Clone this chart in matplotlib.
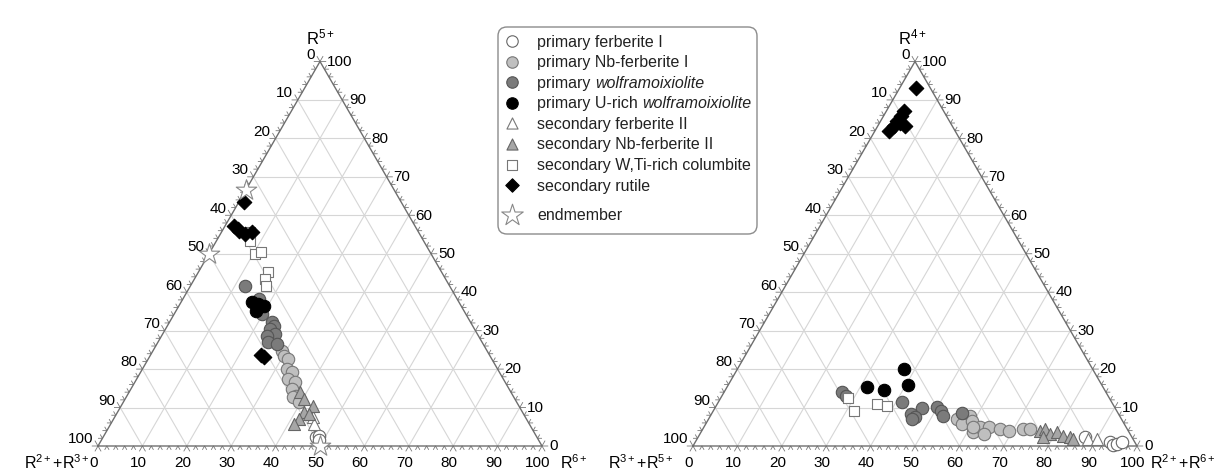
import matplotlib
matplotlib.use('Agg')
import matplotlib.pyplot as plt
from matplotlib.patches import FancyBboxPatch
import numpy as np

plt.rcParams['font.family'] = ['Liberation Sans', 'DejaVu Sans']
plt.rcParams['mathtext.fontset'] = 'custom'
plt.rcParams['mathtext.rm'] = 'Liberation Sans'
plt.rcParams['mathtext.it'] = 'Liberation Sans:italic'

# diagrama izquierdo: (R5+, R6+) en %, el resto es R2+ + R3+
izq_ferb1 = [(2.3, 48.0), (2.6, 48.4), (1.5, 49.0)]
izq_nbferb1 = [(24.7, 29.0), (23.4, 30.3), (22.6, 31.6), (20.0, 32.5), (19.2, 34.0), (17.4, 34.2),
               (16.6, 36.0), (14.8, 36.2), (13.0, 38.2), (12.7, 37.6), (11.4, 39.5)]
izq_wolf = [(41.6, 12.2), (38.2, 17.1), (34.3, 19.8), (32.2, 23.0), (31.2, 24.0), (30.4, 23.5),
            (29.1, 25.3), (28.6, 23.7), (27.0, 24.9), (26.5, 27.0)]
izq_urich = [(37.4, 15.9), (36.9, 17.6), (36.4, 19.1), (35.1, 18.0)]
izq_ferb2 = [(7.5, 44.7), (5.7, 45.9)]
izq_nbferb2 = [(14.0, 38.4), (12.2, 40.4), (10.4, 43.3), (8.8, 42.1), (8.3, 43.4), (7.0, 41.7), (5.7, 41.4)]
izq_colum = [(55.6, 6.4), (53.2, 7.6), (49.9, 10.4), (50.4, 11.4), (45.2, 15.6), (43.4, 15.8), (41.6, 17.0)]
izq_rutilo = [(63.4, 1.1), (57.1, 2.0), (56.4, 3.3), (55.8, 3.8), (55.1, 5.5), (55.6, 6.8),
              (23.1, 25.9), (23.6, 24.8)]
izq_extremos = [(66.7, 0.0), (50.0, 0.0), (0.0, 50.0)]

# diagrama derecho: (R4+, R2+ + R6+) en %, el resto es R3+ + R5+
der_ferb1 = [(2.3, 87.1), (1.0, 93.4), (0.3, 94.5), (0.5, 95.2), (1.0, 96.1)]
der_nbferb1 = [(7.8, 58.4), (7.0, 55.9), (5.7, 57.8), (6.5, 59.5), (3.6, 61.2), (4.9, 62.1),
               (4.9, 64.3), (4.4, 66.9), (3.9, 69.3), (4.4, 72.1), (4.4, 73.6), (5.0, 60.5), (3.0, 64.0)]
der_wolf = [(14.1, 26.4), (13.0, 28.0), (11.5, 41.3), (9.9, 46.6), (8.3, 45.0), (7.6, 46.1),
            (7.0, 45.9), (10.2, 49.8), (9.1, 51.4), (7.8, 52.3), (8.6, 56.2)]
der_urich = [(20.1, 37.4), (15.9, 40.5), (15.4, 31.6), (14.6, 35.8)]
der_ferb2 = [(1.8, 88.0), (1.8, 90.1)]
der_nbferb2 = [(3.9, 76.1), (4.4, 77.0), (3.1, 78.8), (3.6, 80.1), (2.6, 82.0), (2.3, 83.7),
               (1.8, 84.7), (2.3, 77.6)]
der_colum = [(12.5, 28.6), (9.1, 31.7), (10.9, 36.0), (10.4, 38.6)]
der_rutilo = [(93.0, 3.8), (87.2, 4.0), (85.9, 4.0), (84.6, 3.7), (83.3, 3.7), (83.1, 6.1),
              (81.8, 3.3), (83.9, 4.6)]

# etiquetas de la leyenda: (parte normal, parte en italica)
etiquetas = [('primary ferberite I', ''), ('primary Nb-ferberite I', ''),
             ('primary ', 'wolframoixiolite'), ('primary U-rich ', 'wolframoixiolite'),
             ('secondary ferberite II', ''), ('secondary Nb-ferberite II', ''),
             ('secondary W,Ti-rich columbite', ''), ('secondary rutile', ''), ('endmember', '')]

# estilos de cada serie: marcador, relleno, borde, tamaño
estilos = [('o', 'white', '#666666', 80),
           ('o', '#bfbfbf', '#777777', 80),
           ('o', '#7b7b7b', '#555555', 80),
           ('o', 'black', 'black', 80),
           ('^', 'white', '#777777', 75),
           ('^', '#a6a6a6', '#666666', 75),
           ('s', 'white', '#777777', 60),
           ('D', 'black', 'black', 55),
           ('*', 'white', '#888888', 240)]

H = np.sqrt(3) / 2
ESC = 4.44  # pixeles por unidad


def xy(a, c):
    # a = vertice superior, c = vertice derecho
    a = np.asarray(a, dtype=float)
    c = np.asarray(c, dtype=float)
    return c + a / 2, a * H


def triangulo(ax, x0px, ancho_px):
    ax.set_xlim(-x0px / ESC, (ancho_px - x0px) / ESC)
    ax.set_ylim(-30 / ESC, (477 - 30) / ESC)
    ax.axis('off')
    # grilla
    for v in range(10, 100, 10):
        ax.plot([v / 2, 100 - v / 2], [v * H, v * H], color='#d6d6d6', lw=0.8, zorder=1)
        ax.plot([v, v + (100 - v) / 2], [0, (100 - v) * H], color='#d6d6d6', lw=0.8, zorder=1)
        ax.plot([v, v / 2], [0, v * H], color='#d6d6d6', lw=0.8, zorder=1)
    # ticks
    for v in range(0, 101, 2):
        L = 1.3 if v % 10 == 0 else 0.9
        px, py = v, 0
        ax.plot([px - 0.5 * L, px, px + 0.5 * L], [-H * L, py, -H * L], color='#777777', lw=0.6, zorder=2)
        px, py = (100 - v) / 2, (100 - v) * H
        ax.plot([px - L, px, px - 0.5 * L], [py, py, py + H * L], color='#777777', lw=0.6, zorder=2)
        px, py = 100 - v / 2, v * H
        ax.plot([px + L, px, px + 0.5 * L], [py, py, py + H * L], color='#777777', lw=0.6, zorder=2)
    ax.plot([0, 100, 50, 0], [0, 0, 100 * H, 0], color='#6e6e6e', lw=1.0, zorder=2)
    # numeros
    for v in range(0, 101, 10):
        ax.annotate(str(v), xy=(v, 0), xytext=(-3, -11.5), textcoords='offset points',
                    ha='center', va='center', fontsize=11)
        ax.annotate(str(v), xy=((100 - v) / 2, (100 - v) * H), xytext=(-3.5, 5.5),
                    textcoords='offset points', ha='right', va='center', fontsize=11)
        ax.annotate(str(v), xy=(100 - v / 2, v * H), xytext=(5, 0.5), textcoords='offset points',
                    ha='left', va='center', fontsize=11)


def graficar(ax, series):
    for pts, (m, fc, ec, s) in zip(series, estilos):
        if len(pts) == 0:
            continue
        a, c = zip(*pts)
        x, y = xy(a, c)
        ax.scatter(x, y, marker=m, s=s, facecolor=fc, edgecolor=ec, linewidths=0.8, zorder=3)


fig = plt.figure(figsize=(12.23, 4.77), dpi=100)

ax1 = fig.add_axes([0, 0, 0.5, 1])
triangulo(ax1, 98, 611.5)
graficar(ax1, [izq_ferb1, izq_nbferb1, izq_wolf, izq_urich, izq_ferb2, izq_nbferb2,
               izq_colum, izq_rutilo, izq_extremos])
ax1.annotate('R$^{5+}$', xy=(50, 100 * H), xytext=(0, 18), textcoords='offset points',
             ha='center', va='center', fontsize=12)
ax1.annotate('R$^{2+}$+R$^{3+}$', xy=(0, 0), xytext=(-6, -11), textcoords='offset points',
             ha='right', va='center', fontsize=11.5)
ax1.annotate('R$^{6+}$', xy=(100, 0), xytext=(13, -11), textcoords='offset points',
             ha='left', va='center', fontsize=11.5)

ax2 = fig.add_axes([0.5, 0, 0.5, 1])
triangulo(ax2, 693 - 611.5, 611.5)
graficar(ax2, [der_ferb1, der_nbferb1, der_wolf, der_urich, der_ferb2, der_nbferb2,
               der_colum, der_rutilo, []])
ax2.annotate('R$^{4+}$', xy=(50, 100 * H), xytext=(-2, 18), textcoords='offset points',
             ha='center', va='center', fontsize=12)
ax2.annotate('R$^{3+}$+R$^{5+}$', xy=(0, 0), xytext=(-14, -11), textcoords='offset points',
             ha='right', va='center', fontsize=11.5)
ax2.annotate('R$^{2+}$+R$^{6+}$', xy=(100, 0), xytext=(9, -11), textcoords='offset points',
             ha='left', va='center', fontsize=11.5)

# leyenda hecha a mano (pixeles relativos a la caja)
axl = fig.add_axes([497 / 1223, (477 - 236) / 477, 261 / 1223, 209 / 477])
axl.set_xlim(0, 261)
axl.set_ylim(209, 0)
axl.axis('off')
axl.add_patch(FancyBboxPatch((1, 1), 259, 207, boxstyle='round,pad=0,rounding_size=9',
                             facecolor='white', edgecolor='#8c8c8c', lw=1.0))
for i, ((normal, italica), (m, fc, ec, s)) in enumerate(zip(etiquetas, estilos)):
    yy = 15 + 20.6 * i + (9 if i == 8 else 0)
    axl.scatter([15], [yy], marker=m, s=s * (0.85 if m != '*' else 1.1), facecolor=fc,
                edgecolor=ec, linewidths=0.8, zorder=3)
    t = axl.text(40, yy, normal, ha='left', va='center', fontsize=11.5, color='#222222')
    if italica:
        axl.annotate(italica, xy=(1, 0), xycoords=t, ha='left', va='bottom', fontsize=11.5,
                     style='italic', color='#222222')

plt.savefig('out.png', dpi=100)
